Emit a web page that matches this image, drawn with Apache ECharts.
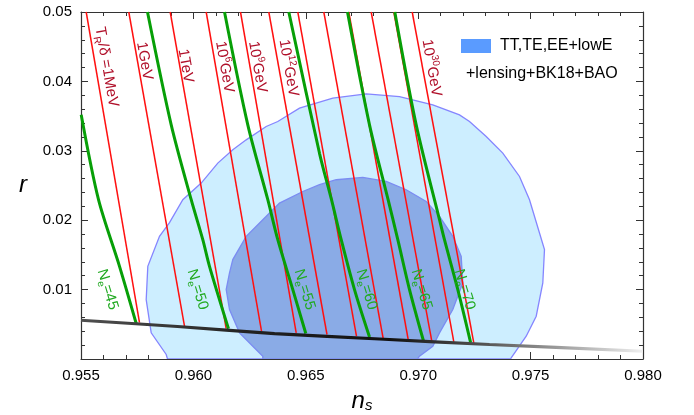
<!DOCTYPE html>
<html><head><meta charset="utf-8">
<script src="https://cdn.jsdelivr.net/npm/echarts@6/dist/echarts.min.js"></script>
<style>html,body{margin:0;padding:0;background:#fff}#c{width:694px;height:415px}</style>
</head><body><div id="c"></div>
<script>
const FONT = '"Liberation Sans", Arial, sans-serif';
const xMin = 0.955, xMax = 0.980, xStep = 0.005;
const yMin = 0, yMax = 0.05, yStep = 0.01;

// 2-sigma (outer) and 1-sigma (inner) contours [n_s, r]
const outerContour = [[0.958848,0],[0.958790,0.00065],[0.958123,0.00377],[0.957900,0.00856],[0.957972,0.01335],[0.958492,0.01767],[0.958937,0.01964],[0.959529,0.02295],[0.960347,0.02535],[0.961085,0.02823],[0.961753,0.03014],[0.962349,0.03158],[0.963238,0.03350],[0.963754,0.03422],[0.964720,0.03614],[0.966201,0.03758],[0.967687,0.03820],[0.969168,0.03781],[0.970649,0.03662],[0.971837,0.03518],[0.972282,0.03422],[0.973025,0.03206],[0.973763,0.02967],[0.974506,0.02630],[0.974951,0.02295],[0.975396,0.01816],[0.975618,0.01576],[0.975543,0.01096],[0.975249,0.00616],[0.974804,0.00328],[0.974137,0.00017],[0.974106,0]];
const innerContour = [[0.963087,0],[0.963087,0.00040],[0.962642,0.00184],[0.962051,0.00377],[0.961606,0.00712],[0.961459,0.01000],[0.961606,0.01240],[0.961753,0.01432],[0.962349,0.01767],[0.963087,0.02007],[0.963830,0.02247],[0.964867,0.02414],[0.965609,0.02511],[0.966352,0.02583],[0.967536,0.02616],[0.968577,0.02558],[0.969466,0.02439],[0.970356,0.02271],[0.970948,0.02055],[0.971539,0.01767],[0.971913,0.01479],[0.971984,0.01096],[0.971539,0.00712],[0.970948,0.00377],[0.970649,0.00184],[0.970057,0.00040],[0.969968,0]];

// reheating-temperature lines: n_s at r = 0.05 and end point on the cutoff line
const reheatTopR = 0.05;
const reheatTopNs = [0.955231,0.957126,0.958968,0.960569,0.962095,0.963354,0.964644,0.965801,0.966913,0.967909,0.968915,0.969733];
const reheatEnd = [[0.957602,0.00525],[0.959604,0.00472],[0.961459,0.00439],[0.963030,0.00400],[0.964573,0.00377],[0.965943,0.00353],[0.967255,0.00328],[0.968443,0.00295],[0.969555,0.00281],[0.970605,0.00256],[0.971584,0.00248],[0.972473,0.00233]];

// e-fold lines
const efold45 = [[0.955009,0.03518],[0.955779,0.02295],[0.956713,0.01335],[0.957456,0.00511]];
const efold50 = [[0.957958,0.05],[0.959013,0.03374],[0.959902,0.02295],[0.960418,0.01719],[0.960716,0.01335],[0.961561,0.00435]];
const efold55 = [[0.961384,0.05],[0.962420,0.03374],[0.963310,0.02295],[0.963754,0.01719],[0.964422,0.01000],[0.965000,0.00367]];
const efold60 = [[0.964244,0.05],[0.965610,0.02964],[0.966143,0.02295],[0.966575,0.01719],[0.967166,0.01000],[0.967834,0.00317]];
const efold65 = [[0.966855,0.05],[0.967834,0.03374],[0.968661,0.02295],[0.969093,0.01719],[0.969613,0.01000],[0.970236,0.00259]];
const efold70 = [[0.968959,0.05],[0.969911,0.03374],[0.970948,0.02007],[0.971168,0.01719],[0.971762,0.01000],[0.972332,0.00237]];

// lower cutoff curve
const cutoffLine = [[0.955,0.00558],[0.959293,0.00468],[0.963608,0.00367],[0.968278,0.00288],[0.973172,0.00209],[0.98,0.00112]];

// labels
const reheatLabels = ['{a|T}{sub|R}{a|/δ =1MeV}','{a|1GeV}','{a|1TeV}','{a|10}{sup|6}{a|GeV}','{a|10}{sup|9}{a|GeV}','{a|10}{sup|12}{a|GeV}','{a|10}{sup|30}{a|GeV}'];
const reheatLabelPos = [[0.956134,0.04209],[0.957825,0.04295],[0.959649,0.04223],[0.961384,0.04209],[0.962851,0.04209],[0.964230,0.04194],[0.970592,0.04194]];
const efoldLabels = ['{a|N}{sub|e}{a|=45}','{a|N}{sub|e}{a|=50}','{a|N}{sub|e}{a|=55}','{a|N}{sub|e}{a|=60}','{a|N}{sub|e}{a|=65}','{a|N}{sub|e}{a|=70}'];
const efoldLabelPos = [[0.956179,0.01],[0.960182,0.01],[0.964942,0.01],[0.967700,0.01],[0.970147,0.01],[0.972060,0.01]];
const legendLines = ['TT,TE,EE+lowE', '+lensing+BK18+BAO'];

const chart = echarts.init(document.getElementById('c'));

function polySeries(pts, fill, stroke) {
  return {
    type: 'custom', coordinateSystem: 'cartesian2d', clip: true, z: 1,
    data: [pts[0]],
    renderItem(params, api) {
      return { type: 'polygon', shape: { points: pts.map(p => api.coord(p)) },
        style: { fill: fill, stroke: stroke, lineWidth: 1.3 } };
    }
  };
}
function richFor(color) {
  return {
    a: { fontSize: 15, fontFamily: FONT, fill: color, lineHeight: 20 },
    sub: { fontSize: 10, fontFamily: FONT, fill: color, lineHeight: 12, verticalAlign: 'bottom' },
    sup: { fontSize: 10, fontFamily: FONT, fill: color, lineHeight: 12, verticalAlign: 'top' }
  };
}
function textSeries(pos, texts, color, rotDeg) {
  return {
    type: 'custom', coordinateSystem: 'cartesian2d', clip: false, z: 10,
    data: pos,
    renderItem(params, api) {
      const p = api.coord([api.value(0), api.value(1)]);
      return { type: 'text', x: p[0], y: p[1], rotation: rotDeg * Math.PI / 180,
        style: { text: texts[params.dataIndex], fill: color, align: 'center', verticalAlign: 'middle',
          font: '15px ' + FONT, rich: richFor(color) } };
    }
  };
}
function lineSeries(data, color, width, smooth, z) {
  return { type: 'line', data: data, showSymbol: false, symbol: 'none', smooth: smooth, z: z,
    lineStyle: { color: color, width: width }, silent: true, animation: false };
}

const axisColor = '#333';
const baseX = {
  type: 'value', min: xMin, max: xMax, interval: xStep,
  axisLine: { show: true, onZero: false, lineStyle: { color: axisColor, width: 1.2 } },
  axisTick: { show: true, inside: true, length: 7, lineStyle: { color: axisColor } },
  minorTick: { show: true, splitNumber: 5, length: 4, lineStyle: { color: axisColor } },
  splitLine: { show: false }, minorSplitLine: { show: false }
};
const baseY = {
  type: 'value', min: yMin, max: yMax, interval: yStep,
  axisLine: { show: true, onZero: false, lineStyle: { color: axisColor, width: 1.2 } },
  axisTick: { show: true, inside: true, length: 7, lineStyle: { color: axisColor } },
  minorTick: { show: true, splitNumber: 5, length: 4, lineStyle: { color: axisColor } },
  splitLine: { show: false }, minorSplitLine: { show: false }
};

const series = [
  polySeries(outerContour, '#cdeeff', '#8585ff'),
  polySeries(innerContour, '#8aabe6', '#7b8cf2')
];
reheatTopNs.forEach((ns, i) => {
  series.push(lineSeries([[ns, reheatTopR], reheatEnd[i]], '#ff1010', 1.5, false, 3));
});
[efold45, efold50, efold55, efold60, efold65, efold70].forEach(d => {
  series.push(lineSeries(d, '#079f07', 3, 0.3, 4));
});
series.push({
  type: 'line', data: cutoffLine, showSymbol: false, symbol: 'none', smooth: 0.3, z: 5,
  lineStyle: { width: 3.2, color: new echarts.graphic.LinearGradient(0, 0, 1, 0, [
    { offset: 0, color: '#505050' }, { offset: 0.3, color: '#222' }, { offset: 0.55, color: '#111' },
    { offset: 0.72, color: '#555' }, { offset: 1, color: '#f2f2f2' }]) }
});
series.push(textSeries(reheatLabelPos, reheatLabels, '#b0102a', -80));
series.push(textSeries(efoldLabelPos, efoldLabels, '#22aa22', -73));

chart.setOption({
  animation: false,
  backgroundColor: '#fff',
  grid: { left: 81, top: 12, width: 562, height: 347, containLabel: false, outerBoundsMode: 'none' },
  xAxis: [
    Object.assign({}, baseX, {
      position: 'bottom',
      axisLabel: { formatter: v => v.toFixed(3), color: '#000', fontSize: 15, fontFamily: FONT, margin: 9 },
      name: '{n|n}{s|s}', nameLocation: 'middle', nameGap: 30,
      nameTextStyle: { rich: {
        n: { fontSize: 24, fontStyle: 'italic', fontFamily: FONT, color: '#000' },
        s: { fontSize: 15, fontStyle: 'italic', fontFamily: FONT, color: '#000', verticalAlign: 'bottom', lineHeight: 14 } } }
    }),
    Object.assign({}, baseX, { position: 'top', axisLabel: { show: false } })
  ],
  yAxis: [
    Object.assign({}, baseY, {
      position: 'left',
      axisLabel: { formatter: v => (Math.abs(v) < 1e-9 ? '' : v.toFixed(2)), color: '#000', fontSize: 15, fontFamily: FONT, margin: 9 },
      name: 'r', nameLocation: 'middle', nameGap: 54, nameRotate: 0,
      nameTextStyle: { fontSize: 24, fontStyle: 'italic', fontFamily: FONT, color: '#000' }
    }),
    Object.assign({}, baseY, { position: 'right', axisLabel: { show: false } })
  ],
  graphic: [
    { type: 'rect', shape: { x: 461, y: 39, width: 30, height: 14 }, style: { fill: '#5a9bff' }, z: 20 },
    { type: 'text', x: 500, y: 46, z: 20, style: { text: legendLines[0], font: '16px ' + FONT, fill: '#000', verticalAlign: 'middle' } },
    { type: 'text', x: 466, y: 74, z: 20, style: { text: legendLines[1], font: '16px ' + FONT, fill: '#000', verticalAlign: 'middle' } }
  ],
  series: series
});
</script></body></html>
